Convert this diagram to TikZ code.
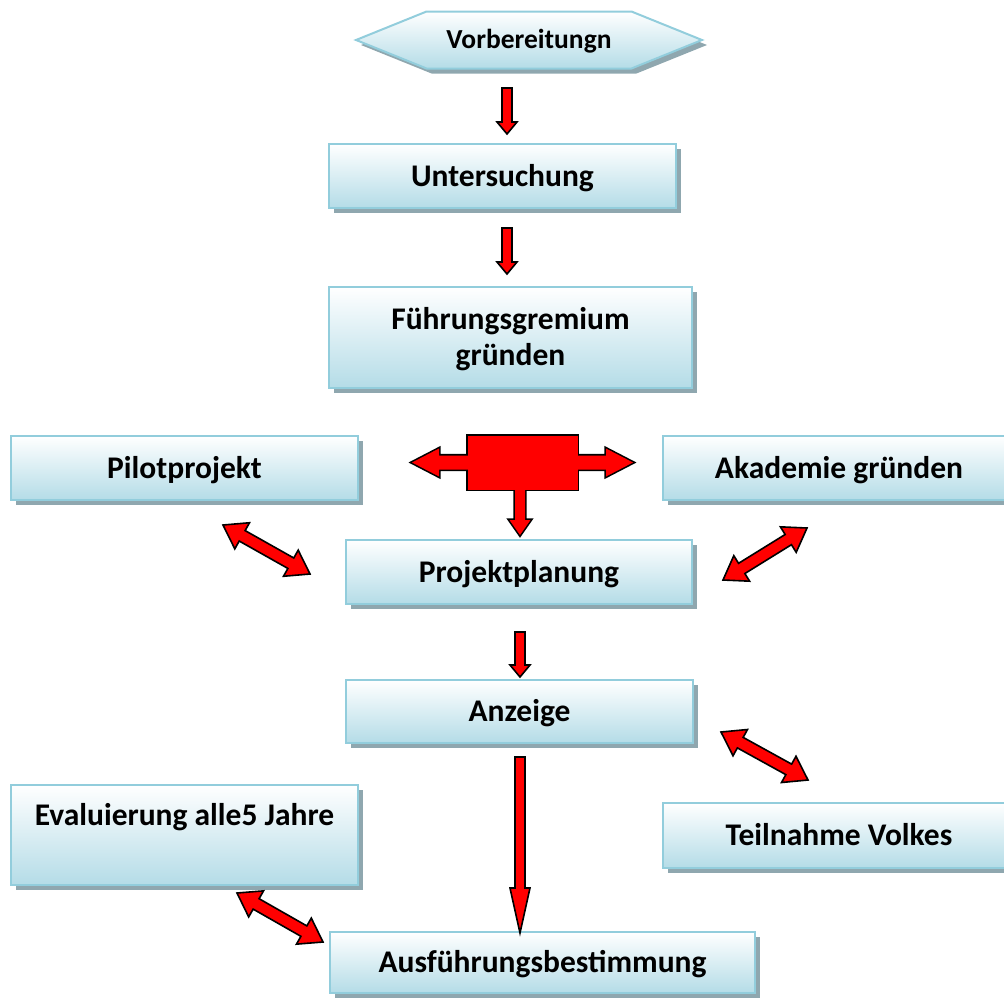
\documentclass[tikz,border=0pt]{standalone}
\usepackage{fontspec}
\setmainfont{Carlito}
\usetikzlibrary{calc,shadows,shapes.symbols}
\definecolor{boxline}{HTML}{92CDDC}
\definecolor{boxfill}{HTML}{B4DCE7}
\definecolor{boxshadow}{HTML}{8FA7AF}
\definecolor{arrred}{HTML}{FF0000}
% single block arrow: from #1 to #2, shaft half width #3, head half width #4, head length #5
\newcommand\sblock[5]{%
  \coordinate (hB) at ($(#2)!#5!(#1)$);
  \filldraw[arrowpaint] ($(#1)!#3!90:(#2)$) -- ($(hB)!#3!90:(#2)$) -- ($(hB)!#4!90:(#2)$) -- (#2)
    -- ($(hB)!#4!-90:(#2)$) -- ($(hB)!#3!-90:(#2)$) -- ($(#1)!#3!-90:(#2)$) -- cycle;}
% double block arrow between #1 and #2
\newcommand\dblock[5]{%
  \coordinate (hA) at ($(#1)!#5!(#2)$);
  \coordinate (hB) at ($(#2)!#5!(#1)$);
  \filldraw[arrowpaint] (#1) -- ($(hA)!#4!90:(#2)$) -- ($(hA)!#3!90:(#2)$) -- ($(hB)!#3!90:(#2)$)
    -- ($(hB)!#4!90:(#2)$) -- (#2) -- ($(hB)!#4!-90:(#2)$) -- ($(hB)!#3!-90:(#2)$)
    -- ($(hA)!#3!-90:(#2)$) -- ($(hA)!#4!-90:(#2)$) -- cycle;}
\tikzset{
  box/.style={draw=boxline, line width=2pt, top color=white, bottom color=boxfill,
    drop shadow={shadow xshift=5pt, shadow yshift=-5pt, fill=boxshadow, opacity=1},
    font=\fontsize{31.5}{36}\selectfont\bfseries, align=center, inner sep=0pt, text depth=2pt},
  arrowpaint/.style={fill=arrred, draw=black, line width=1.6pt, line join=miter},
}
\begin{document}
\begin{tikzpicture}[x=1pt,y=-1pt]
\useasboundingbox (0,0) rectangle (1004,997);
% nodes
\node[box, signal, signal to=west and east, signal pointer angle=44,
  minimum width=346pt, minimum height=57pt, font=\fontsize{27.5}{32}\selectfont\bfseries]
  (vor) at (529,40) {Vorbereitungn};
\node[box, minimum width=347pt, minimum height=64pt] (unt) at (502.5,176) {Untersuchung};
\node[box, minimum width=363pt, minimum height=101pt] (fg) at (510.5,337.5) {Führungsgremium\\gründen};
\node[box, minimum width=347pt, minimum height=64pt] (pil) at (184.5,468) {Pilotprojekt};
\node[box, minimum width=352pt, minimum height=64pt] (aka) at (839,468) {Akademie gründen};
\node[box, minimum width=346pt, minimum height=64pt] (proj) at (519,572) {Projektplanung};
\node[box, minimum width=347pt, minimum height=63pt] (anz) at (519.5,711.5) {Anzeige};
\node[box, minimum width=347pt, text height=40pt, text depth=60pt] (eva) at (184.5,835) {Evaluierung alle5 Jahre};
\node[box, minimum width=352pt, minimum height=65pt] (tei) at (839,835.5) {Teilnahme Volkes};
\node[box, minimum width=425pt, minimum height=61pt] (aus) at (542.5,962.5) {Ausführungsbestimmung};
% connector end points
\coordinate (a1s) at (507,88);  \coordinate (a1e) at (507,134);
\coordinate (a2s) at (507,228); \coordinate (a2e) at (507,274);
\coordinate (a5s) at (520,632); \coordinate (a5e) at (520,677);
\coordinate (a6s) at (520,757); \coordinate (a6e) at (520,933);
\coordinate (hl) at (412,462.5);  \coordinate (hr) at (633,462.5); \coordinate (hd) at (520,535);
\coordinate (d1a) at (223,525); \coordinate (d1b) at (310,574);
\coordinate (d2a) at (723,580); \coordinate (d2b) at (807,528);
\coordinate (d3a) at (721,732); \coordinate (d3b) at (808,780);
\coordinate (d4a) at (237,893); \coordinate (d4b) at (323,942);
% vertical arrows
\sblock{a1s}{a1e}{5pt}{10pt}{12pt}
\sblock{a2s}{a2e}{5pt}{10pt}{12pt}
\sblock{a5s}{a5e}{5pt}{10pt}{12pt}
\sblock{a6s}{a6e}{5pt}{10pt}{45pt}
% hub with three arrows: outline pass then fill pass
\node[draw=black, line width=3.2pt, fill=arrred, minimum width=110pt, minimum height=54pt,
  inner sep=0pt, outer sep=0pt] (hub) at (522.5,462.5) {};
\coordinate (hubD) at (hd |- hub.center);
\begin{scope}[arrowpaint/.style={fill=arrred, draw=black, line width=3.2pt, line join=miter}]
  \sblock{hub.center}{hl}{7pt}{14pt}{27pt}
  \sblock{hub.center}{hr}{7pt}{14pt}{27pt}
  \sblock{hubD}{hd}{5pt}{10.5pt}{15pt}
\end{scope}
\begin{scope}[arrowpaint/.style={fill=arrred, draw=none}]
  \fill[arrred] (hub.south west) rectangle (hub.north east);
  \sblock{hub.center}{hl}{7pt}{14pt}{27pt}
  \sblock{hub.center}{hr}{7pt}{14pt}{27pt}
  \sblock{hubD}{hd}{5pt}{10.5pt}{15pt}
\end{scope}
% double arrows
\dblock{d1a}{d1b}{6pt}{15pt}{22pt}
\dblock{d2a}{d2b}{6pt}{15pt}{22pt}
\dblock{d3a}{d3b}{6pt}{15pt}{22pt}
\dblock{d4a}{d4b}{6pt}{15pt}{22pt}
\end{tikzpicture}
\end{document}
